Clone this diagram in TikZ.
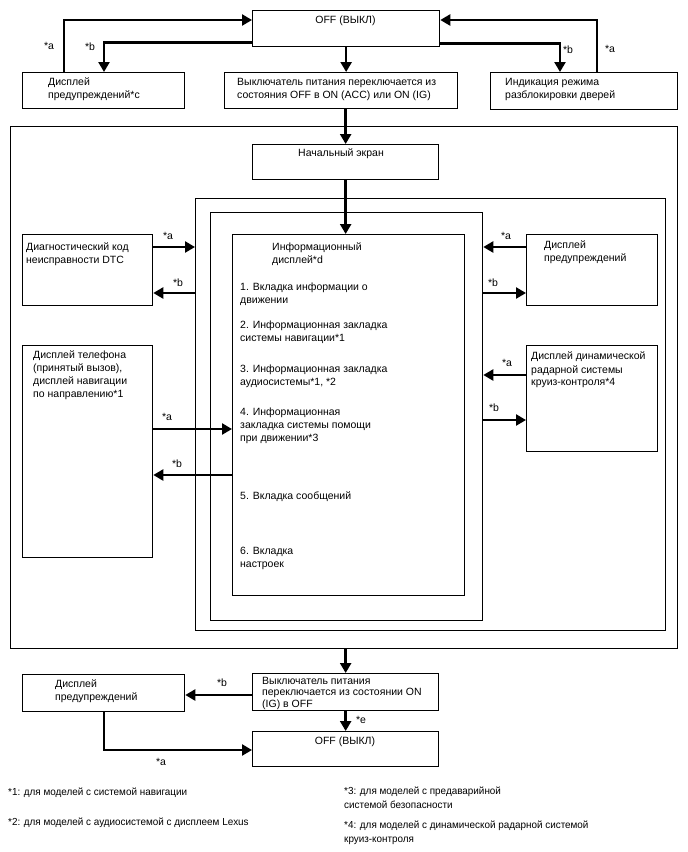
\documentclass[tikz,border=0pt]{standalone}
\usepackage{fontspec}
\setmainfont{Liberation Sans}
\newfontfamily\fnfont[FakeStretch=0.97]{Liberation Sans}
\usetikzlibrary{arrows.meta,calc}
\tikzset{
  box/.style={draw, line width=1.3pt, inner sep=0pt, anchor=north west},
  arr/.style={line width=2.4pt, -{Triangle[length=10pt,width=11pt]}},
  txt/.style={anchor=north west, inner sep=0pt, align=left, font=\fontsize{10.5}{13}\selectfont},
  ctxt/.style={anchor=center, inner sep=0pt, font=\fontsize{10.5}{13}\selectfont},
  lbl/.style={anchor=center, inner sep=0pt, font=\fontsize{10.5}{13}\selectfont},
  fn/.style={anchor=north west, inner sep=0pt, align=left, font=\fnfont\fontsize{10.2}{14}\selectfont}
}
\begin{document}
\begin{tikzpicture}[x=1pt,y=-1pt]
\useasboundingbox (0,0) rectangle (688,852);
% boxes
\node[box, minimum width=187pt, minimum height=36pt] (offT) at (252,10) {};
\node[box, minimum width=162pt, minimum height=36pt] (lw) at (22,72) {};
\node[box, minimum width=233pt, minimum height=36pt] (sw) at (224,72) {};
\node[box, minimum width=187pt, minimum height=37pt] (dl) at (490,72) {};
\node[box, minimum width=667pt, minimum height=522pt] (big) at (10,126) {};
\node[box, minimum width=186pt, minimum height=35pt] (nach) at (252,144) {};
\node[box, minimum width=470pt, minimum height=432pt] (fr2) at (195,198) {};
\node[box, minimum width=272pt, minimum height=408pt] (fr3) at (210,212) {};
\node[box, minimum width=232pt, minimum height=361pt] (info) at (232,234) {};
\node[box, minimum width=130pt, minimum height=71pt] (dtc) at (22,234) {};
\node[box, minimum width=131pt, minimum height=71pt] (rw) at (526,234) {};
\node[box, minimum width=130pt, minimum height=212pt] (ph) at (22,345) {};
\node[box, minimum width=131pt, minimum height=106pt] (rad) at (526,345) {};
\node[box, minimum width=186pt, minimum height=37pt] (so) at (252,673) {};
\node[box, minimum width=162pt, minimum height=37pt] (lw2) at (22,674) {};
\node[box, minimum width=186pt, minimum height=35pt] (off2) at (252,731) {};
% texts
\node[ctxt] (toffT) at (345.5,21) {OFF (ВЫКЛ)};
\node[txt] (tlw) at (48,78) {Дисплей\\предупреждений*c};
\node[txt] (tsw) at (237,78) {Выключатель питания переключается из\\состояния OFF в ON (ACC) или ON (IG)};
\node[txt] (tdl) at (505,78) {Индикация режима\\разблокировки дверей};
\node[ctxt] (tnach) at (341,154) {Начальный экран};
\node[txt] (tinfo) at (272,243) {Информационный\\дисплей*d};
\node[txt] (ti1) at (240,283) {1. Вкладка информации о\\движении};
\node[txt] (ti2) at (240,321) {2. Информационная закладка\\системы навигации*1};
\node[txt] (ti3) at (240,365) {3. Информационная закладка\\аудиосистемы*1, *2};
\node[txt] (ti4) at (240,408) {4. Информационная\\закладка системы помощи\\при движении*3};
\node[txt] (ti5) at (240,491) {5. Вкладка сообщений};
\node[txt] (ti6) at (240,547) {6. Вкладка\\настроек};
\node[txt] (tdtc) at (26,243) {Диагностический код\\неисправности DTC};
\node[txt] (trw) at (544,241) {Дисплей\\предупреждений};
\node[txt] (trad) at (531,352) {Дисплей динамической\\радарной системы\\круиз-контроля*4};
\node[txt] (tph) at (33,351) {Дисплей телефона\\(принятый вызов),\\дисплей навигации\\по направлению*1};
\node[txt, font=\fontsize{10.5}{11.5}\selectfont] (tso) at (262,677) {Выключатель питания\\переключается из состоянии ON\\(IG) в OFF};
\node[txt] (tlw2) at (55,679) {Дисплей\\предупреждений};
\node[ctxt] (toff2) at (345,742) {OFF (ВЫКЛ)};
% connectors top
\draw[arr] ([xshift=42pt]lw.north west) |- ([yshift=-10pt]offT.north west);
\draw[arr] ([yshift=5pt]offT.south west) -| ([xshift=82pt]lw.north west);
\draw[arr] ([xshift=107pt]dl.north west) |- ([yshift=-10pt]offT.north east);
\draw[arr] ([yshift=4pt]offT.south east) -| ([xshift=70pt]dl.north west);
\draw[arr] (offT.south) -- (offT.south |- sw.north);
\draw[line width=2.4pt] (nach.north |- sw.south) -- (nach.north |- big.north);
\draw[arr] (nach.north |- big.north) -- (nach.north);
\draw[arr] (nach.south) -- (nach.south |- info.north);
\node[lbl] (la1) at (49,46) {*a};
\node[lbl] (lb1) at (90,47) {*b};
\node[lbl] (lb2) at (568,50) {*b};
\node[lbl] (la2) at (610,49) {*a};
% left side
\coordinate (c1) at ([yshift=-13pt]dtc.north east);
\coordinate (c2) at ([yshift=-59pt]fr2.north west);
\draw[arr] (c1) -- (c1 -| fr2.west);
\draw[arr] (c2 |- 0,293) -- (dtc.east |- 0,293);
\coordinate (c3) at ([yshift=-84pt]ph.north east);
\coordinate (c4) at ([yshift=-241pt]info.north west);
\draw[arr] (c3) -- (c3 -| info.west);
\draw[arr] (c4) -- (c4 -| ph.east);
\node[lbl] (la3) at (168,236) {*a};
\node[lbl] (lb3) at (178,283) {*b};
\node[lbl] (la4) at (167,417) {*a};
\node[lbl] (lb4) at (177,464) {*b};
% right side
\coordinate (c5) at ([yshift=-13pt]rw.north west);
\coordinate (c6) at ([yshift=-59pt]rw.north west);
\draw[arr] (c5) -- (c5 -| fr3.east);
\draw[arr] (c6 -| fr3.east) -- (c6);
\coordinate (c7) at ([yshift=-30pt]rad.north west);
\coordinate (c8) at ([yshift=-75pt]rad.north west);
\draw[arr] (c7) -- (c7 -| fr3.east);
\draw[arr] (c8 -| fr3.east) -- (c8);
\node[lbl] (la5) at (506,236) {*a};
\node[lbl] (lb5) at (493,283) {*b};
\node[lbl] (la6) at (507,363) {*a};
\node[lbl] (lb6) at (494,408) {*b};
% bottom
\draw[arr] (nach.south |- big.south) -- (nach.south |- so.north);
\draw[arr] (nach.south |- so.south) -- (nach.south |- off2.north);
\coordinate (c9) at ([yshift=-22pt]so.north west);
\draw[arr] (c9) -- (c9 -| lw2.east);
\coordinate (c10) at ([yshift=-19pt]off2.north west);
\draw[arr] ([xshift=82pt]lw2.south west) |- (c10);
\node[lbl] (lb7) at (222,683) {*b};
\node[lbl] (le7) at (361,720) {*e};
\node[lbl] (la7) at (161,762) {*a};
% footnotes
\node[fn] (f1) at (8,788) {*1: для моделей с системой навигации};
\node[fn] (f2) at (8,818) {*2: для моделей с аудиосистемой с дисплеем Lexus};
\node[fn] (f3) at (344,787) {*3: для моделей с предаварийной\\системой безопасности};
\node[fn] (f4) at (344,821) {*4: для моделей с динамической радарной системой\\круиз-контроля};
\end{tikzpicture}
\end{document}
